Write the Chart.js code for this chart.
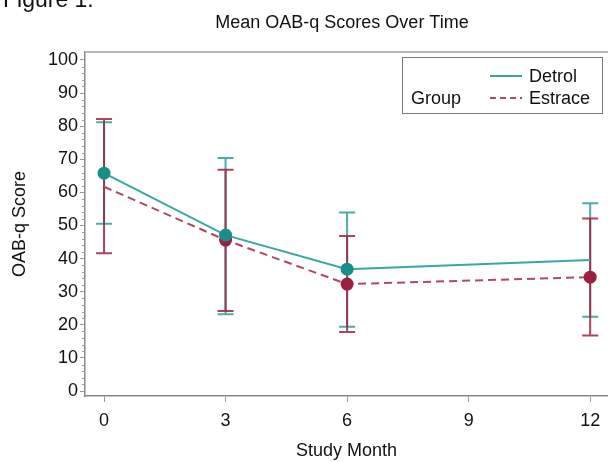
<!DOCTYPE html>
<html>
<head>
<meta charset="utf-8">
<script src="https://cdn.jsdelivr.net/npm/chart.js@4.4.1/dist/chart.umd.min.js"></script>
<style>
  html, body { margin: 0; padding: 0; background: #fff; }
  #wrap { width: 608px; height: 462px; }
</style>
</head>
<body>
<div id="wrap"><canvas id="myChart" width="608" height="462"></canvas></div>
<script>
const months = [0, 3, 6, 12];
const xTicks = [0, 3, 6, 9, 12];
const yTicks = [0, 10, 20, 30, 40, 50, 60, 70, 80, 90, 100];

// Detrol group
const detrolMean = [65.8, 47.1, 36.8, 39.6];
const detrolLow = [50.5, 23.2, 19.4, 22.4];
const detrolHigh = [81.2, 70.4, 53.9, 56.7];

// Estrace group
const estraceMean = [61.7, 45.6, 32.3, 34.4];
const estraceLow = [41.6, 24.2, 17.8, 16.8];
const estraceHigh = [82.2, 66.8, 46.8, 52.1];

const FONT = "'Liberation Sans', Arial, sans-serif";
const TEAL = '#3aa8a1';
const TEAL_DARK = '#168f88';
const MAROON = '#b04862';
const MAROON_DARK = '#9b1f3e';

const toPoints = (xs, ys) => xs.map((x, i) => ({ x: x, y: ys[i] }));

// error bars, drawn under the lines and markers
const errorBars = {
  id: 'errorBars',
  beforeDatasetsDraw(chart) {
    const ctx = chart.ctx;
    const xs = chart.scales.x;
    const ys = chart.scales.y;
    const groups = [
      { low: detrolLow, high: detrolHigh, color: 'rgba(42,160,152,0.85)' },
      { low: estraceLow, high: estraceHigh, color: 'rgba(158,36,66,0.85)' }
    ];
    ctx.save();
    ctx.lineWidth = 2;
    groups.forEach(g => {
      ctx.strokeStyle = g.color;
      months.forEach((m, i) => {
        const px = xs.getPixelForValue(m);
        const top = ys.getPixelForValue(g.high[i]);
        const bot = ys.getPixelForValue(g.low[i]);
        ctx.beginPath();
        ctx.moveTo(px, top); ctx.lineTo(px, bot);
        ctx.moveTo(px - 8, top); ctx.lineTo(px + 8, top);
        ctx.moveTo(px - 8, bot); ctx.lineTo(px + 8, bot);
        ctx.stroke();
      });
    });
    ctx.restore();
  }
};

// frame, minor ticks, titles and the legend box
const decorations = {
  id: 'decorations',
  afterDraw(chart) {
    const ctx = chart.ctx;
    const area = chart.chartArea;
    const ys = chart.scales.y;
    ctx.save();

    ctx.strokeStyle = '#b8b8b8';
    ctx.lineWidth = 2;
    ctx.beginPath();
    ctx.moveTo(area.left, area.top);
    ctx.lineTo(area.right, area.top);
    ctx.stroke();

    ctx.strokeStyle = '#9a9a9a';
    ctx.lineWidth = 1;
    for (let v = 2; v < 100; v += 2) {
      if (v % 10 === 0) continue;
      const py = Math.round(ys.getPixelForValue(v)) + 0.5;
      ctx.beginPath();
      ctx.moveTo(area.left - 3, py);
      ctx.lineTo(area.left, py);
      ctx.stroke();
    }

    ctx.fillStyle = '#111';
    ctx.textBaseline = 'alphabetic';
    ctx.textAlign = 'left';
    ctx.font = '23px ' + FONT;
    ctx.fillText('Figure 1:', 3, 7);

    ctx.textAlign = 'center';
    ctx.textBaseline = 'middle';
    ctx.font = '18px ' + FONT;
    ctx.fillText('Mean OAB-q Scores Over Time', 342, 23);

    // legend
    ctx.fillStyle = '#fff';
    ctx.fillRect(402, 57, 200, 56);
    ctx.strokeStyle = '#7a7a7a';
    ctx.lineWidth = 1;
    ctx.strokeRect(402.5, 57.5, 200, 56);

    ctx.lineWidth = 2;
    ctx.strokeStyle = TEAL;
    ctx.beginPath();
    ctx.moveTo(490, 76); ctx.lineTo(522, 76);
    ctx.stroke();
    ctx.strokeStyle = MAROON;
    ctx.setLineDash([6, 4]);
    ctx.beginPath();
    ctx.moveTo(490, 98); ctx.lineTo(522, 98);
    ctx.stroke();
    ctx.setLineDash([]);

    ctx.fillStyle = '#111';
    ctx.textAlign = 'left';
    ctx.fillText('Detrol', 529, 77);
    ctx.fillText('Estrace', 529, 99);
    ctx.fillText('Group', 411, 99);

    ctx.restore();
  }
};

const ctx = document.getElementById('myChart').getContext('2d');

const config = {
  type: 'scatter',
  data: {
    datasets: [{
      label: 'Detrol',
      data: toPoints(months, detrolMean),
      showLine: true,
      borderColor: TEAL,
      borderWidth: 2,
      backgroundColor: TEAL_DARK,
      pointBackgroundColor: TEAL_DARK,
      pointBorderColor: TEAL_DARK,
      pointRadius: [5.5, 5.5, 5.5, 0],
      fill: false
    }, {
      label: 'Estrace',
      data: toPoints(months, estraceMean),
      showLine: true,
      borderColor: MAROON,
      borderWidth: 2,
      borderDash: [8, 5],
      backgroundColor: MAROON_DARK,
      pointBackgroundColor: MAROON_DARK,
      pointBorderColor: MAROON_DARK,
      pointRadius: [0, 5.5, 5.5, 5.5],
      fill: false
    }]
  },
  options: {
    responsive: false,
    animation: false,
    layout: {
      autoPadding: false,
      padding: { top: 52, right: 0, bottom: 0, left: 0 }
    },
    scales: {
      x: {
        type: 'linear',
        position: 'bottom',
        min: -0.47,
        max: 12.44,
        afterBuildTicks: scale => { scale.ticks = xTicks.map(v => ({ value: v })); },
        afterFit: scale => {
          scale.height = 66;
          scale.paddingLeft = 0;
          scale.paddingRight = 0;
        },
        title: {
          display: true,
          text: 'Study Month',
          color: '#111',
          font: { family: FONT, size: 18 },
          padding: { top: 0, bottom: 0 }
        },
        grid: {
          drawOnChartArea: false,
          drawTicks: true,
          tickLength: 6,
          color: '#9a9a9a'
        },
        border: { color: '#8a8a8a', width: 1.5 },
        ticks: {
          color: '#111',
          font: { family: FONT, size: 18 },
          padding: 8,
          maxRotation: 0
        }
      },
      y: {
        min: -1.5,
        max: 102.4,
        afterBuildTicks: scale => { scale.ticks = yTicks.map(v => ({ value: v })); },
        afterFit: scale => {
          scale.width = 85;
          scale.paddingTop = 0;
          scale.paddingBottom = 0;
        },
        title: {
          display: true,
          text: 'OAB-q Score',
          color: '#111',
          font: { family: FONT, size: 18 },
          padding: { top: 9, bottom: 0 }
        },
        grid: {
          drawOnChartArea: false,
          drawTicks: true,
          tickLength: 5,
          color: '#9a9a9a'
        },
        border: { color: '#8a8a8a', width: 1.5 },
        ticks: {
          color: '#111',
          font: { family: FONT, size: 18 },
          padding: 2
        }
      }
    },
    plugins: {
      legend: { display: false },
      title: { display: false },
      tooltip: { enabled: false }
    }
  },
  plugins: [errorBars, decorations]
};

const myChart = new Chart(ctx, config);
</script>
</body>
</html>
